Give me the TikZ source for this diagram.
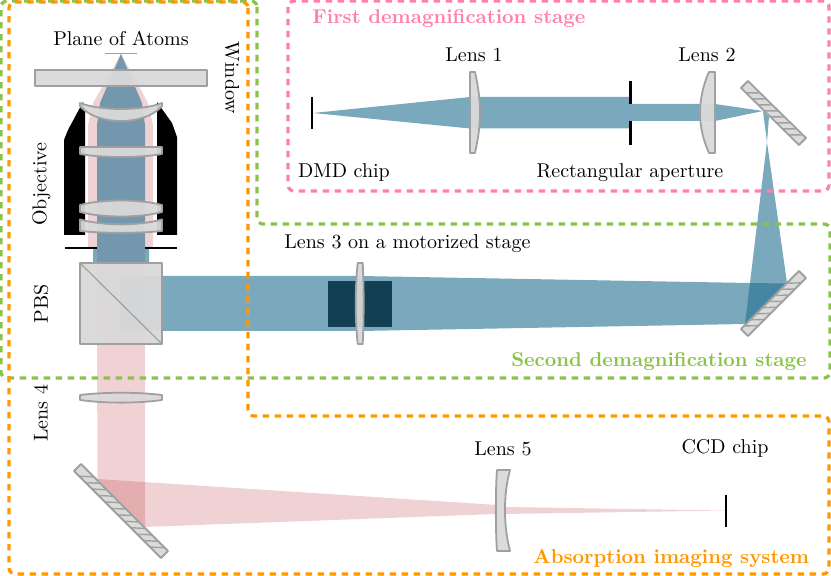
\documentclass[tikz,border=0pt]{standalone}
\usetikzlibrary{calc}
\definecolor{bluebeam}{RGB}{33,112,145}
\definecolor{redbeam}{RGB}{180,30,40}
\definecolor{optgray}{RGB}{217,217,217}
\definecolor{optedge}{RGB}{160,160,160}
\definecolor{stagedark}{RGB}{18,63,83}
\definecolor{pinkbox}{RGB}{255,128,171}
\definecolor{greenbox}{RGB}{139,195,74}
\definecolor{orangebox}{RGB}{255,152,0}
\tikzset{
  blueb/.style={fill=bluebeam,fill opacity=.6,draw=none},
  redb/.style={fill=redbeam,fill opacity=.2,draw=none},
  optic/.style={fill=optgray,fill opacity=.95,draw=optedge,line width=.9pt,line join=round},
  hatchline/.style={draw=optedge,line width=.7pt},
  blackbar/.style={draw=black,line width=1pt},
  thinbar/.style={draw=black,line width=.75pt},
  stagebox/.style={dash pattern=on 3.2pt off 2.8pt,line width=1.6pt,rounded corners=3pt},
  lbl/.style={inner sep=0pt,font=\fontsize{10}{12}\selectfont,text=black},
  stagelbl/.style={inner sep=0pt,font=\fontsize{10}{12}\selectfont\bfseries}
}
\newcommand{\hatchedmirror}[5]{%
  \coordinate (ma) at (#1); \coordinate (mb) at (#2);
  \coordinate (mc) at (#3); \coordinate (md) at (#4);
  \draw[optic] (ma) -- (mb) -- (mc) -- (md) -- cycle;
  \foreach \i in {2,...,#5}{
    \draw[hatchline] ($(ma)!{\i/(#5+0.5)}!(md)$) -- ($(mb)!{(\i-1.2)/(#5+0.5)}!(mc)$);
  }
}
\begin{document}
\begin{tikzpicture}[x=0.5pt,y=-0.5pt]
\useasboundingbox (0,0) rectangle (831,576);
% pink (imaging) beams
\fill[redb] (121,54) -- (93,103) -- (88,125) -- (88,247) -- (97,247) -- (97,344) -- (145,344) -- (145,247) -- (153,247) -- (153,125) -- (148,103) -- cycle;
\fill[redb] (97,344) -- (145,344) -- (145,527) -- (97.5,479) -- cycle;
\fill[redb] (97.5,479) -- (497,505) -- (497,514) -- (143.5,527) -- cycle;
\fill[redb] (505,507) -- (725,510.5) -- (505,514) -- cycle;
% blue beams
\fill[blueb] (121,54) -- (100,103) -- (97,125) -- (97,247) -- (93,247) -- (93,263) -- (149,263) -- (149,247) -- (145,247) -- (145,125) -- (142,103) -- cycle;
\fill[blueb] (120,276) -- (360,276) -- (749,283) -- (787,283.5) -- (745,324) -- (360,331) -- (120,331) -- cycle;
\fill[blueb] (313,113) -- (470,97) -- (630,97) -- (630,104) -- (715,104) -- (763,111) -- (769,117) -- (767,142) -- (787,283) -- (745,324) -- (767,142) -- (763,111) -- (715,121) -- (630,121) -- (630,128.5) -- (470,128.5) -- cycle;
% translation stage
\fill[stagedark] (328,281) rectangle (392,327);
% objective housing
\fill[black] (83,102) -- (68,130) -- (64,140) -- (64,235) -- (85,235) -- (85,108) -- cycle;
\fill[black] (157,102) -- (172,123) -- (177,137) -- (177,235) -- (157,235) -- (157,108) -- cycle;
\draw[blackbar] (65,248) -- (97,248);
\draw[blackbar] (145,248) -- (177,248);
% window and plane of atoms
\draw[optic] (35,70) rectangle (207,86);
\draw[draw=optedge,line width=.75pt] (105,53.5) -- (137,53.5);
% objective lenses
\draw[optic] (80,103) .. controls (100,111) and (142,111) .. (162,103) -- (162,106) .. controls (145,126) and (97,126) .. (80,106) -- cycle;
\draw[optic] (80,147) -- (162,147) -- (162,154) .. controls (140,158) and (102,158) .. (80,154) -- cycle;
\draw[optic] (80,205) .. controls (102,199) and (140,199) .. (162,205) -- (162,212) .. controls (140,218) and (102,218) .. (80,212) -- cycle;
\draw[optic] (80,219.5) .. controls (105,226) and (137,226) .. (162,219.5) -- (162,231) .. controls (137,233.5) and (105,233.5) .. (80,231) -- cycle;
% PBS
\draw[optic] (80,263) rectangle (162,344);
\draw[draw=optedge,line width=.6pt] (80,263) -- (162,344);
% lenses
\draw[optic] (357.7,263) -- (362.7,263) .. controls (364,290) and (364,317) .. (362.7,344) -- (357.7,344) .. controls (355,317) and (355,290) .. (357.7,263) -- cycle;
\draw[optic] (80,395) .. controls (105,392) and (137,392) .. (162,395) -- (162,400) .. controls (137,403.5) and (105,403.5) .. (80,400) -- cycle;
\draw[optic] (470,72) -- (475,72) .. controls (478.5,88) and (480,100) .. (480,112.5) .. controls (480,125) and (478.5,137) .. (475,153) -- (470,153) -- cycle;
\draw[optic] (709,72) .. controls (703,85) and (700,100) .. (700,113) .. controls (700,126) and (703,140) .. (709,153) -- (715,153) -- (715,72) -- cycle;
\draw[optic] (497,470) -- (510,470) .. controls (506,485) and (505,498) .. (505,510) .. controls (505,522) and (506,535) .. (510,551) -- (497,551) .. controls (495.5,535) and (495.5,485) .. (497,470) -- cycle;
% chips and aperture
\draw[thinbar] (312,97) -- (312,129);
\draw[thinbar] (726,495) -- (726,527);
\draw[draw=black,line width=1.5pt] (630,81) -- (630,104);
\draw[draw=black,line width=1.5pt] (630,121) -- (630,145);
% mirrors
\hatchedmirror{748,81}{741,88}{799,145}{806,138}{9}
\hatchedmirror{799,271}{806,278}{748,336}{741,329}{9}
\hatchedmirror{81,464}{74,471}{161,558}{168,551}{13}
% stage outlines
\draw[stagebox,greenbox] (257,1) -- (257,224) -- (830,224) -- (830,378) -- (1,378) -- (1,1) -- cycle;
\draw[stagebox,orangebox] (248,2) -- (248,416) -- (829,416) -- (829,574) -- (9,574) -- (9,2) -- cycle;
\draw[stagebox,pinkbox] (288,1) rectangle (829,191);
% labels
\node[lbl] (atoms) at (121,38) {Plane of Atoms};
\node[lbl,rotate=-90] (window) at (232,78) {Window};
\node[lbl,rotate=90] (objective) at (41.5,184) {Objective};
\node[lbl,rotate=90] (pbs) at (41,304) {PBS};
\node[lbl,rotate=90] (lensfour) at (41,413) {Lens 4};
\node[lbl] (lensthree) at (407.5,244) {Lens 3 on a motorized stage};
\node[lbl] (lensone) at (474,55) {Lens 1};
\node[lbl] (lenstwo) at (707,55) {Lens 2};
\node[lbl] (dmd) at (344,173) {DMD chip};
\node[lbl] (aperture) at (630,173) {Rectangular aperture};
\node[lbl] (lensfive) at (503,449) {Lens 5};
\node[lbl] (ccd) at (725,448) {CCD chip};
\node[stagelbl,text=pinkbox,anchor=west] (firststage) at (312,19) {First demagnification stage};
\node[stagelbl,text=greenbox,anchor=west] (secondstage) at (511,362) {Second demagnification stage};
\node[stagelbl,text=orangebox,anchor=west] (imaging) at (533,559) {Absorption imaging system};
\end{tikzpicture}
\end{document}
